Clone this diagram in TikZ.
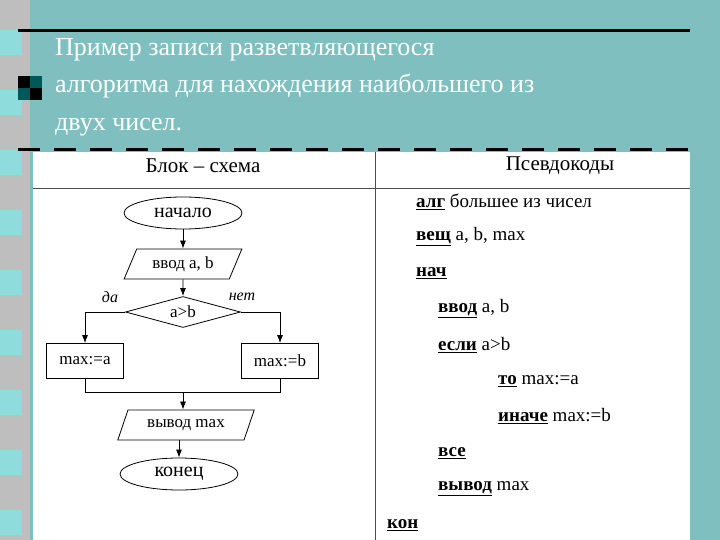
\documentclass[tikz,border=0pt]{standalone}
\usepackage{fontspec}
\setmainfont{Liberation Serif}
\usetikzlibrary{shapes.geometric,arrows.meta}
\definecolor{teal1}{HTML}{7FBFBF}
\definecolor{cyan1}{HTML}{8FDCDC}
\definecolor{gray1}{HTML}{BEBEBE}
\tikzset{x=1pt,y=1pt,
 fc/.style={draw,thick,font=\fontsize{17}{17}\selectfont,inner sep=2pt},
 term/.style={fc,ellipse,minimum width=118,minimum height=32,inner sep=0pt,font=\fontsize{20}{20}\selectfont},
 io/.style={fc,trapezium,trapezium left angle=65,trapezium right angle=115,trapezium stretches=true,minimum height=30},
 dec/.style={fc,diamond,aspect=3.8,minimum width=115,minimum height=31,inner sep=0pt},
 proc/.style={fc,rectangle,minimum width=77,minimum height=35},
 arr/.style={thick,-{Latex[length=8pt,width=6pt]}},
 ln/.style={thick},
 code/.style={anchor=west,font=\fontsize{19}{19}\selectfont,inner sep=0pt},
 lab/.style={font=\itshape\fontsize{16}{16}\selectfont}}
\newcommand{\kw}[1]{\underline{\textbf{#1}}}
\begin{document}
\begin{tikzpicture}
\useasboundingbox (0,0) rectangle (720,-540);
\fill[teal1] (0,0) rectangle (720,-540);
\fill[gray1] (0,0) rectangle (30,-540);
\foreach \k in {0,...,8} {\fill[cyan1] (0,-30-60*\k) rectangle (22,-55-60*\k);}
\draw[line width=3pt] (18,-31) -- (690,-31);
\fill[black] (18,-76) rectangle (42,-100);
\fill[teal!70!black] (30,-76) rectangle (42,-88);
\fill[teal!70!black] (18,-88) rectangle (30,-100);
\node[anchor=north west,align=left,text=white,font=\fontsize{26}{37.5}\selectfont,inner sep=0pt] (title) at (55,-38)
 {Пример записи разветвляющегося\\алгоритма для нахождения наибольшего из\\двух чисел.};
\draw[line width=3pt,dash pattern=on 22pt off 14pt] (18,-150) -- (690,-150);
\fill[white] (33,-152) rectangle (690,-540);
\draw[thick,black!70] (33,-188) -- (690,-188);
\draw[thick,black!70] (375,-152) -- (375,-540);
\node[font=\fontsize{21}{21}\selectfont] (h1) at (203,-166) {Блок – схема};
\node[font=\fontsize{21}{21}\selectfont] (h2) at (560,-166) {Псевдокоды};
% flowchart
\node[term] (s) at (183,-213) {начало};
\node[io,minimum width=118] (in) at (183,-264) {ввод a, b};
\node[dec] (d) at (183,-312) {a>b};
\node[proc] (pa) at (85,-361) {max:=a};
\node[proc] (pb) at (280,-361) {max:=b};
\node[io,minimum width=137] (out) at (186,-425) {вывод max};
\node[term] (e) at (179,-474) {конец};
\coordinate (m) at (183,-392);
\coordinate (ml) at (85,-392);
\coordinate (mr) at (280,-392);
\draw[arr] (s) -- (in);
\draw[arr] (in) -- (d);
\draw[arr] (d.west) -| (pa.north);
\draw[arr] (d.east) -| (pb.north);
\draw[ln] (pa.south) -- (ml) -- (mr) -- (pb.south);
\draw[arr] (m) -- (m |- out.north);
\draw[arr] (out.south -| e.north) -- (e);
\node[lab] (yes) at (110,-297) {да};
\node[lab] (no) at (242,-297) {нет};
% pseudocode
\node[code] (c1) at (416,-202) {\kw{алг} большее из чисел};
\node[code] (c2) at (416,-237) {\kw{вещ} a, b, max};
\node[code] (c3) at (416,-273) {\kw{нач}};
\node[code] (c4) at (438,-309) {\kw{ввод} a, b};
\node[code] (c5) at (438,-345) {\kw{если} a>b};
\node[code] (c6) at (498,-381) {\kw{то} max:=a};
\node[code] (c7) at (498,-416) {\kw{иначе} max:=b};
\node[code] (c8) at (438,-453) {\kw{все}};
\node[code] (c9) at (438,-489) {\kw{вывод} max};
\node[code] (c10) at (387,-525) {\kw{кон}};
\end{tikzpicture}
\end{document}
